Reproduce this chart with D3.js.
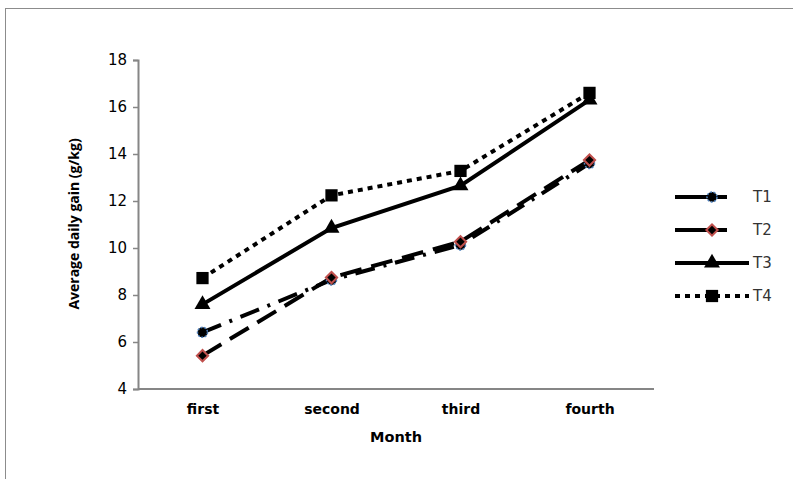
<!DOCTYPE html>
<html><head><meta charset="utf-8">
<script src="https://cdn.jsdelivr.net/npm/d3@7"></script>
<style>body{margin:0;background:#fff}svg{display:block}</style>
</head><body><svg id="c" width="793" height="479"></svg>
<script>
const months = ["first","second","third","fourth"];
const seriesNames = ["T1","T2","T3","T4"];
const t1 = [6.41, 8.64, 10.13, 13.6];
const t2 = [5.42, 8.74, 10.27, 13.74];
const t3 = [7.6, 10.85, 12.65, 16.3];
const t4 = [8.72, 12.24, 13.28, 16.6];
const yTicks = [4,6,8,10,12,14,16,18];

const svg = d3.select("#c");
svg.append("rect").attr("x",5.5).attr("y",8.5).attr("width",800).attr("height",500)
  .attr("fill","none").attr("stroke","#8c8c8c").attr("stroke-width",1);

const pL=138, pR=654, pT=60, pB=389;
const x = d3.scalePoint().domain(months).range([pL,pR]).padding(0.5);
const y = d3.scaleLinear().domain([4,18]).range([pB,pT]);

const gy = svg.append("g").attr("transform",`translate(${pL},0)`)
  .call(d3.axisLeft(y).tickValues(yTicks).tickSize(5).tickPadding(6).tickFormat(d3.format("d")));
gy.select(".domain").attr("stroke","#868686").attr("stroke-width",2);
gy.selectAll(".tick line").attr("stroke","#868686").attr("stroke-width",1.5);
gy.selectAll(".tick text").style("font-size","15px").style("font-family","DejaVu Sans").attr("fill","#000");

const gx = svg.append("g").attr("transform",`translate(0,${pB})`)
  .call(d3.axisBottom(x).tickSize(0).tickPadding(15));
gx.select(".domain").attr("stroke","#868686").attr("stroke-width",2).attr("d",`M${pL},0H${pR}`);
gx.selectAll(".tick text").style("font-size","14px").style("font-family","DejaVu Sans").style("font-weight","bold").attr("fill","#000");

svg.append("text").attr("x",396).attr("y",442).attr("text-anchor","middle")
  .style("font-family","DejaVu Sans").style("font-size","14.5px").style("font-weight","bold").text("Month");
svg.append("text").attr("transform","translate(79,224) rotate(-90)").attr("text-anchor","middle")
  .style("font-family","Open Sans").style("font-size","14px").style("font-weight","bold").text("Average daily gain (g/kg)");

const series = [
  {name:"T1", vals:t1, dash:"20,9,3,9", marker:"circle"},
  {name:"T2", vals:t2, dash:"22,10", marker:"diamond"},
  {name:"T3", vals:t3, dash:null, marker:"triangle"},
  {name:"T4", vals:t4, dash:"5,5", marker:"square"}
];
const line = d3.line().x((d,i)=>x(months[i])).y(d=>y(d));

function marker(g, type, cx, cy){
  if(type==="circle"){
    g.append("circle").attr("cx",cx).attr("cy",cy).attr("r",5).attr("fill","#000")
      .attr("stroke","#4f81bd").attr("stroke-width",1.5).attr("stroke-dasharray","2,1.5");
  } else if(type==="diamond"){
    g.append("path").attr("d",d3.symbol().type(d3.symbolSquare2).size(80)())
      .attr("transform",`translate(${cx},${cy}) rotate(45)`).attr("fill","#000")
      .attr("stroke","#c0504d").attr("stroke-width",2);
  } else if(type==="triangle"){
    g.append("path").attr("d",d3.symbol().type(d3.symbolTriangle).size(110)())
      .attr("transform",`translate(${cx},${cy})`).attr("fill","#000");
  } else {
    g.append("path").attr("d",d3.symbol().type(d3.symbolSquare).size(150)())
      .attr("transform",`translate(${cx},${cy})`).attr("fill","#000");
  }
}

series.forEach(s=>{
  svg.append("path").datum(s.vals).attr("d",line).attr("fill","none")
    .attr("stroke","#000").attr("stroke-width",4)
    .attr("stroke-dasharray",s.dash);
});
series.forEach(s=>{
  const g = svg.append("g");
  s.vals.forEach((v,i)=>marker(g,s.marker,x(months[i]),y(v)));
});

// legend
const legY = [197,230,263,296];
series.forEach((s,i)=>{
  const g = svg.append("g");
  const x2 = (s.name==="T3"||s.name==="T4") ? 749 : 727;
  g.append("line").attr("x1",675).attr("x2",x2).attr("y1",legY[i]).attr("y2",legY[i])
    .attr("stroke","#000").attr("stroke-width",4)
    .attr("stroke-dasharray",s.name==="T4"?"5,5":null);
  marker(g,s.marker,712,legY[i]);
  g.append("text").attr("x",753).attr("y",legY[i]).attr("dy","0.35em")
    .style("font-family","DejaVu Sans").style("font-size","15px").attr("fill","#333").text(s.name);
});
</script></body></html>
